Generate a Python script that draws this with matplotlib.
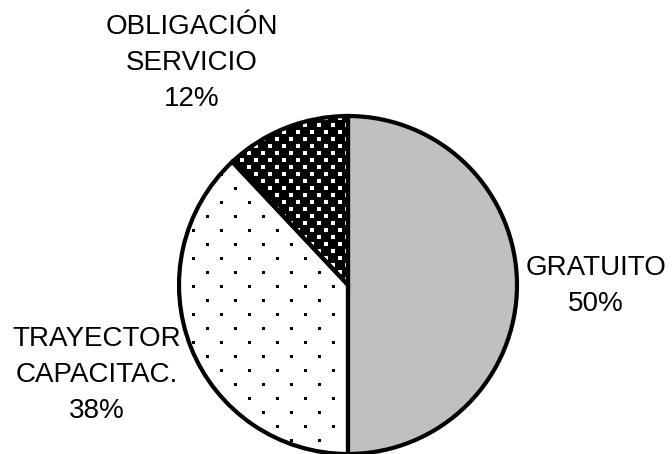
import matplotlib
matplotlib.use("Agg")
import matplotlib.pyplot as plt
import numpy as np

# ---- data ----
categories = ["GRATUITO", "TRAYECTOR\nCAPACITAC.", "OBLIGACIÓN\nSERVICIO"]
values = [50, 38, 12]

# ---- style / layout ----
W, H = 672, 454
center = (348, H - 285)
radius = 169
face_colors = ["#c0c0c0", "white", "black"]
dot_colors = [None, "black", "white"]
dot_spacing = [None, (28, 14), (14, 7)]
dot_size = [None, 3.0, 3.5]
label_pos = [(596, H - 286), (97, H - 375), (192, H - 63)]

plt.rcParams['font.family'] = ['Liberation Sans', 'DejaVu Sans']

fig = plt.figure(figsize=(W / 100, H / 100), dpi=100)
ax = fig.add_axes([0, 0, 1, 1])

wedges, _ = ax.pie(values, startangle=90, counterclock=False, center=center,
                   radius=radius, colors=face_colors,
                   wedgeprops=dict(linewidth=0, edgecolor='none'), frame=True)

# dot textures clipped to wedges
for i, w in enumerate(wedges):
    if dot_colors[i] is None:
        continue
    dx, dy = dot_spacing[i]
    xs, ys = [], []
    row = 0
    y = center[1] - radius - dy
    while y < center[1] + radius + dy:
        off = (dx / 2) if row % 2 else 0
        x = center[0] - radius - dx + off
        while x < center[0] + radius + dx:
            xs.append(x)
            ys.append(y)
            x += dx
        y += dy
        row += 1
    s = (dot_size[i] * 0.72) ** 2
    sc = ax.scatter(xs, ys, s=s, marker='s', c=dot_colors[i], linewidths=0, zorder=3)
    sc.set_clip_path(w)

# outlines on top
outl, _ = ax.pie(values, startangle=90, counterclock=False, center=center,
                 radius=radius,
                 wedgeprops=dict(linewidth=3.0, edgecolor='black', fill=False),
                 frame=True)
for w in outl:
    w.set_zorder(4)

ax.set_xlim(0, W)
ax.set_ylim(0, H)
ax.set_aspect('equal')
ax.axis('off')

total = sum(values)
for cat, v, (lx, ly) in zip(categories, values, label_pos):
    ax.text(lx, ly, f"{cat}\n{round(100 * v / total)}%", ha='center', va='center',
            fontsize=20, linespacing=1.48, color='black')

fig.savefig("out.png", dpi=100)
